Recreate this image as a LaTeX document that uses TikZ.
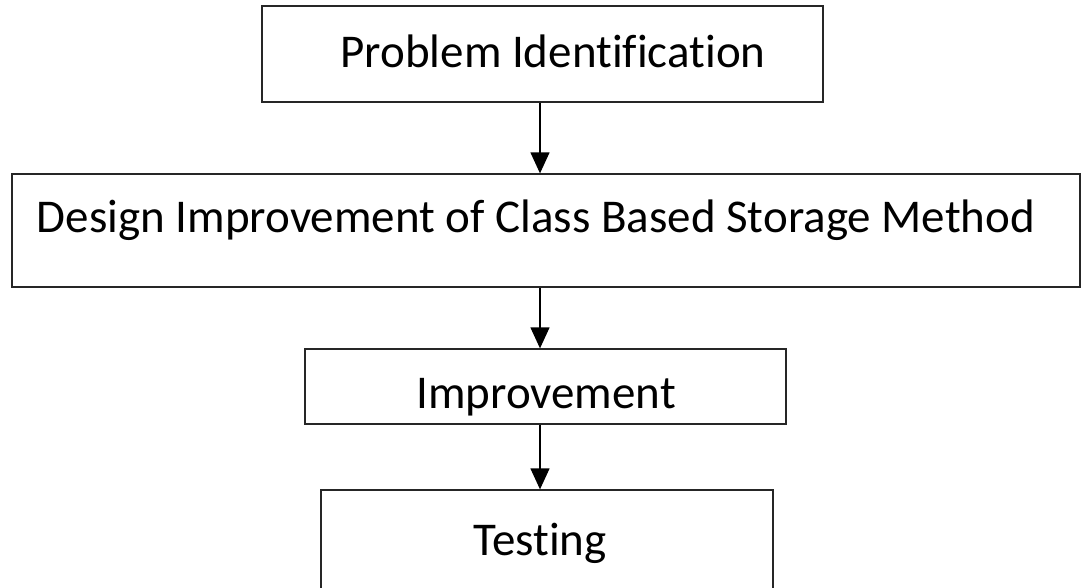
\documentclass[tikz,border=0pt]{standalone}
\usepackage{fontspec}
\setmainfont[Ligatures={NoCommon}]{Carlito}
\usetikzlibrary{arrows.meta}
\begin{document}
\begin{tikzpicture}[x=1pt,y=-1pt,
  box/.style={draw=black!85,line width=1.3pt,rectangle,inner sep=0pt},
  lbl/.style={anchor=base,inner sep=0pt,font=\fontsize{47}{56}\selectfont},
  arr/.style={line width=1.3pt,-{Triangle[length=21pt,width=19pt]}}]
\useasboundingbox (0,0) rectangle (1083,587);
\clip (0,0) rectangle (1083,587);
\fill[white] (0,0) rectangle (1083,587);
\coordinate (ax) at (540,0);
\node[box,minimum width=561pt,minimum height=96pt] (b1) at (542.5,54) {};
\node[box,minimum width=1068pt,minimum height=113pt] (b2) at (546,230.5) {};
\node[box,minimum width=481pt,minimum height=75pt] (b3) at (545.5,386.5) {};
\node[box,minimum width=452pt,minimum height=130pt] (b4) at (547,555) {};
\node[lbl] (t1) at (553,67) {Problem Identification};
\node[lbl] (t2) at (536,232) {Design Improvement of Class Based Storage Method};
\node[lbl] (t3) at (546,408) {Improvement};
\node[lbl] (t4) at (540,555) {Testing};
\draw[arr] (b1.south -| ax) -- (b2.north -| ax);
\draw[arr] (b2.south -| ax) -- (b3.north -| ax);
\draw[arr] (b3.south -| ax) -- (b4.north -| ax);
\end{tikzpicture}
\end{document}
